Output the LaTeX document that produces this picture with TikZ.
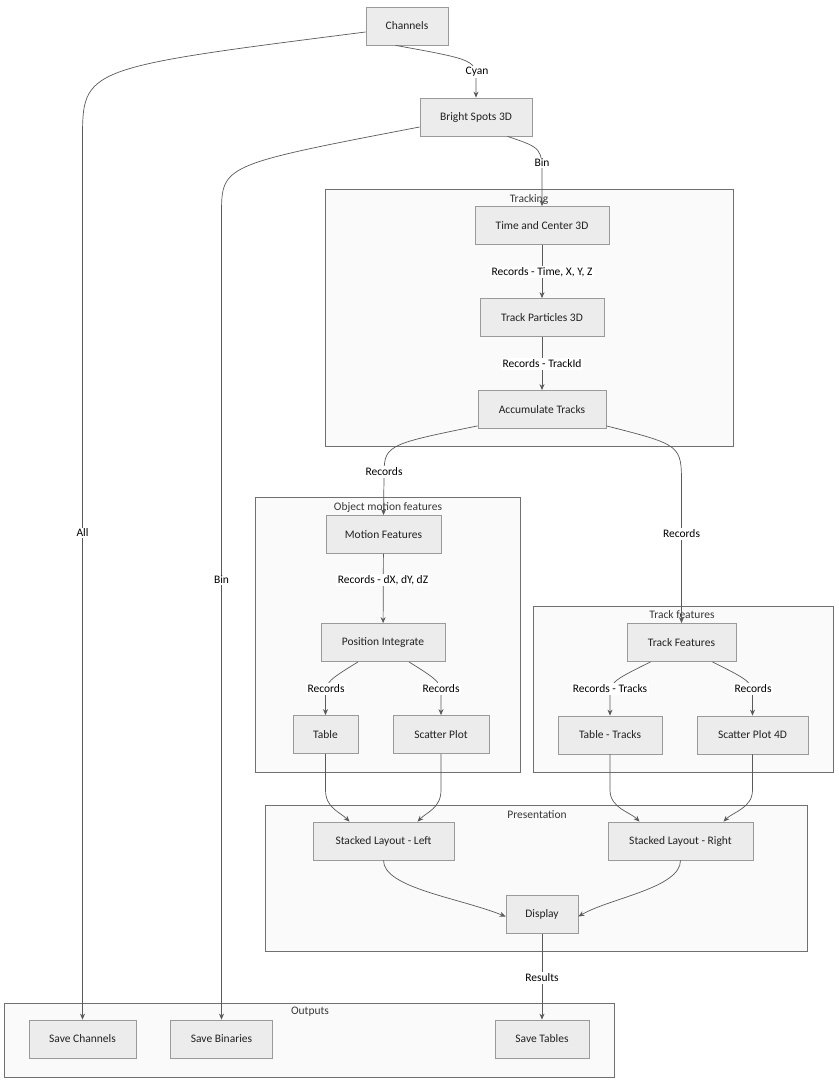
\documentclass[tikz,border=0pt]{standalone}
\usepackage{fontspec}
\setmainfont{Carlito}
\usetikzlibrary{arrows.meta}
\definecolor{nodefill}{HTML}{ECECEC}
\definecolor{nodedraw}{HTML}{9A9A9A}
\definecolor{clusterfill}{HTML}{FAFAFA}
\definecolor{clusterdraw}{HTML}{707070}
\definecolor{edgecol}{HTML}{5A5A5A}
\definecolor{txt}{HTML}{222222}
\tikzset{
  box/.style={draw=nodedraw, fill=nodefill, line width=0.8pt, minimum height=38pt,
    inner sep=0pt, text=txt, font=\fontsize{11.5}{13}\selectfont},
  cluster/.style={draw=clusterdraw, fill=clusterfill, line width=0.8pt, inner sep=0pt},
  clabel/.style={text=txt!90, inner sep=1pt, font=\fontsize{11.5}{13}\selectfont},
  elabel/.style={fill=white, text=black, inner sep=1.5pt, font=\fontsize{11.5}{13}\selectfont},
  edge/.style={draw=edgecol, line width=0.7pt, -{Stealth[length=6pt,width=5pt]}},
}
\begin{document}
\begin{tikzpicture}[x=1pt,y=-1pt]
\useasboundingbox[fill=white] (0,0) rectangle (838,1083);
% clusters
\node[cluster, minimum width=408pt, minimum height=257pt] (ctrack) at (529,317.5) {};
\node[clabel] (ltrack) at (529,199) {Tracking};
\node[cluster, minimum width=265pt, minimum height=275pt] (cobj) at (387.5,634.5) {};
\node[clabel] (lobj) at (388,507) {Object motion features};
\node[cluster, minimum width=300pt, minimum height=166pt] (ctf) at (683,689) {};
\node[clabel] (ltf) at (682,615) {Track features};
\node[cluster, minimum width=542pt, minimum height=146pt] (cpres) at (536,878) {};
\node[clabel] (lpres) at (537,815) {Presentation};
\node[cluster, minimum width=610pt, minimum height=74pt] (cout) at (309,1040) {};
\node[clabel] (lout) at (310,1012) {Outputs};
% nodes
\node[box, minimum width=82pt] (ch) at (407,26) {Channels};
\node[box, minimum width=112pt] (bs) at (476,117) {Bright Spots 3D};
\node[box, minimum width=134pt] (tc) at (542,225.5) {Time and Center 3D};
\node[box, minimum width=124pt] (tp) at (542,317.5) {Track Particles 3D};
\node[box, minimum width=128pt] (at) at (542,409.5) {Accumulate Tracks};
\node[box, minimum width=115pt] (mf) at (383.5,534.5) {Motion Features};
\node[box, minimum width=124pt] (pi) at (383,642.5) {Position Integrate};
\node[box, minimum width=65pt] (tb) at (325.5,734.5) {Table};
\node[box, minimum width=96pt] (sp) at (441,734.5) {Scatter Plot};
\node[box, minimum width=109pt] (tf) at (681.5,642.5) {Track Features};
\node[box, minimum width=104pt] (tt) at (610,735) {Table - Tracks};
\node[box, minimum width=111pt] (s4) at (752.5,735) {Scatter Plot 4D};
\node[box, minimum width=141pt] (sl) at (383.5,841) {Stacked Layout - Left};
\node[box, minimum width=145pt] (sr) at (680.5,841) {Stacked Layout - Right};
\node[box, minimum width=72pt] (dp) at (542,914.5) {Display};
\node[box, minimum width=107pt] (sc) at (82.5,1039) {Save Channels};
\node[box, minimum width=102pt] (sb) at (221.5,1039) {Save Binaries};
\node[box, minimum width=94pt] (st) at (542,1039) {Save Tables};
% edges
\draw[edge] ([xshift=30pt]ch.south west) .. controls (476,60) .. (476,82) -- (bs.north);
\node[elabel] (e1) at (477,72) {Cyan};
\draw[edge] ([yshift=-6pt]ch.west) .. controls (82.5,68) .. (82.5,140) -- (sc.north);
\node[elabel] (e2) at (82.5,533) {All};
\draw[edge] ([xshift=-25pt]bs.south east) .. controls (542,148) .. (542,178) -- (tc.north);
\node[elabel] (e3) at (542,163) {Bin};
\draw[edge] ([yshift=-10pt]bs.west) .. controls (221.5,165) .. (221.5,215) -- (sb.north);
\node[elabel] (e4) at (221.5,580) {Bin};
\draw[edge] (tc) -- (tp);
\node[elabel] (e5) at (542,272) {Records - Time, X, Y, Z};
\draw[edge] (tp) -- (at);
\node[elabel] (e6) at (542,364) {Records - TrackId};
\draw[edge] ([yshift=3pt]at.south west) .. controls (384,445) .. (384,478) -- (mf.north);
\node[elabel] (e7) at (384,472) {Records};
\draw[edge] ([yshift=3pt]at.south east) .. controls (681.5,445) .. (681.5,485) -- (tf.north);
\node[elabel] (e8) at (681.5,534) {Records};
\draw[edge] (mf) -- (pi);
\node[elabel] (e9) at (383,580) {Records - dX, dY, dZ};
\draw[edge] ([xshift=-25pt]pi.south) .. controls (325.5,682) .. (325.5,700) -- (tb.north);
\node[elabel] (e10) at (326,689) {Records};
\draw[edge] ([xshift=26pt]pi.south) .. controls (441,682) .. (441,700) -- (sp.north);
\node[elabel] (e11) at (441,689) {Records};
\draw[edge] ([xshift=-31pt]tf.south) .. controls (610,682) .. (610,700) -- (tt.north);
\node[elabel] (e12) at (610,689) {Records - Tracks};
\draw[edge] ([xshift=31pt]tf.south) .. controls (752.5,682) .. (752.5,700) -- (s4.north);
\node[elabel] (e13) at (753,689) {Records};
\draw[edge] (tb.south) -- (325.5,790) .. controls (325.5,808) and (340,812) .. ([xshift=-34pt]sl.north);
\draw[edge] (sp.south) -- (441,790) .. controls (441,808) and (427,812) .. ([xshift=34pt]sl.north);
\draw[edge] (tt.south) -- (610,790) .. controls (610,808) and (630,812) .. ([xshift=-41pt]sr.north);
\draw[edge] (s4.south) -- (752.5,790) .. controls (752.5,808) and (733,812) .. ([xshift=43pt]sr.north);
\draw[edge] (sl.south) .. controls (383.5,888) and (460,898) .. ([yshift=-2pt]dp.west);
\draw[edge] (sr.south) .. controls (680.5,888) and (610,898) .. ([yshift=-2pt]dp.east);
\draw[edge] (dp) -- (st);
\node[elabel] (e14) at (542,978) {Results};
\end{tikzpicture}
\end{document}
